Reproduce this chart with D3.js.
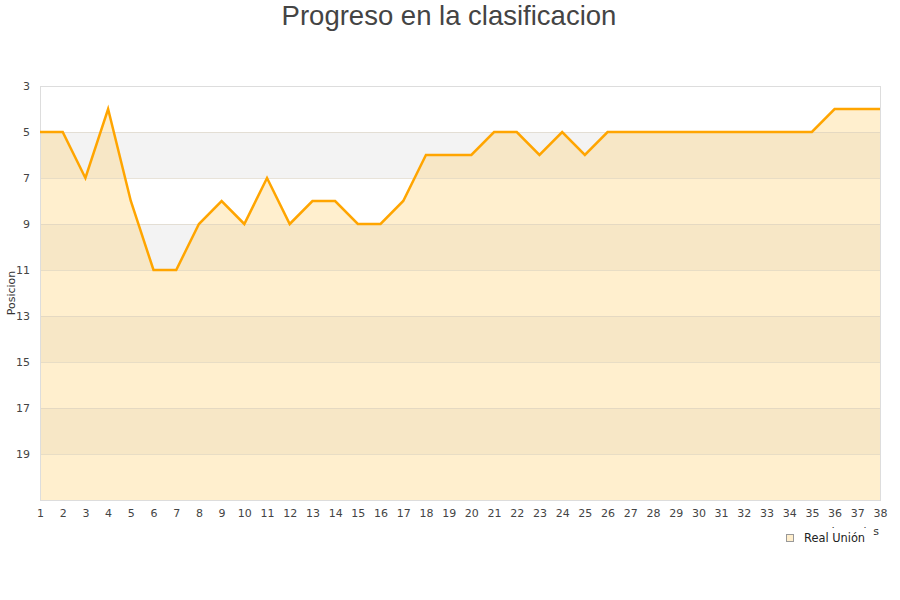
<!DOCTYPE html>
<html><head><meta charset="utf-8">
<script src="https://cdn.jsdelivr.net/npm/d3@7"></script>
<style>body{margin:0;background:#fff}svg{display:block}</style>
</head><body>
<svg id="c" width="900" height="600"></svg>
<script>
const rounds = d3.range(1, 39);
const positions = [5,5,7,4,8,11,11,9,8,9,7,9,8,8,9,9,8,6,6,6,5,5,6,5,6,5,5,5,5,5,5,5,5,5,5,4,4,4];
const yTicks = [3,5,7,9,11,13,15,17,19];
const teamName = "Real Unión";
const titleText = "Progreso en la clasificacion";

const svg = d3.select("#c");
const x = d3.scaleLinear().domain([1,38]).range([40,880]);
const y = d3.scaleLinear().domain([3,21]).range([86,500]);

// background bands
const bands = d3.range(3, 21, 2);
svg.append("g").selectAll("rect").data(bands).join("rect")
  .attr("x", x(1)).attr("width", x(38)-x(1))
  .attr("y", d=>y(d)).attr("height", d=>y(d+2)-y(d))
  .attr("fill", (d,i)=> i%2===1 ? "#f3f3f3" : "#ffffff");

// area
const area = d3.area().x((d,i)=>x(rounds[i])).y0(y(21)).y1(d=>y(d));
svg.append("path").datum(positions).attr("d", area)
  .attr("fill", "#ffcc66").attr("fill-opacity", 0.32);

// grid lines
svg.append("g").selectAll("line").data(yTicks.slice(1)).join("line")
  .attr("x1", x(1)).attr("x2", x(38)).attr("y1", d=>y(d)).attr("y2", d=>y(d))
  .attr("stroke", "#d8d0c0").attr("stroke-opacity", 0.6).attr("stroke-width", 1).attr("shape-rendering","crispEdges");

// border
svg.append("rect").attr("x", x(1)+0.5).attr("y", y(3)+0.5)
  .attr("width", x(38)-x(1)).attr("height", y(21)-y(3))
  .attr("fill","none").attr("stroke","#dddddd").attr("shape-rendering","crispEdges");

// line
const line = d3.line().x((d,i)=>x(rounds[i])).y(d=>y(d));
svg.append("path").datum(positions).attr("d", line)
  .attr("fill","none").attr("stroke","#ffa500").attr("stroke-width",2.5).attr("stroke-linejoin","miter");

// y axis
const yAxis = d3.axisLeft(y).tickValues(yTicks).tickSize(0).tickPadding(10);
const gy = svg.append("g").attr("transform","translate(40,0)").call(yAxis);
gy.select(".domain").remove();
gy.selectAll("text").attr("font-family","DejaVu Sans, Verdana, sans-serif").attr("font-size",11).attr("fill","#444");

// x axis
const xAxis = d3.axisBottom(x).tickValues(rounds).tickSize(0).tickPadding(9).tickFormat(d3.format("d"));
const gx = svg.append("g").attr("transform","translate(0,500)").call(xAxis);
gx.select(".domain").remove();
gx.selectAll("text").attr("font-family","DejaVu Sans, Verdana, sans-serif").attr("font-size",11).attr("fill","#444");

// title
svg.append("text").attr("x",449).attr("y",25).attr("text-anchor","middle")
  .attr("font-family","Liberation Sans, Arial, sans-serif").attr("font-size",27.5).attr("fill","#444").text(titleText);

// y label
svg.append("text").attr("transform","translate(15,293) rotate(-90)").attr("text-anchor","middle")
  .attr("font-family","DejaVu Sans, Verdana, sans-serif").attr("font-size",11).attr("fill","#333").text("Posicion");

// x label (partly covered by legend, as in the reference)
svg.append("text").attr("x",879).attr("y",535).attr("text-anchor","end")
  .attr("font-family","DejaVu Sans, Verdana, sans-serif").attr("font-size",11).attr("fill","#333").text("Jornadas");

// legend
const lg = svg.append("g");
lg.append("rect").attr("x",778).attr("y",528).attr("width",95).attr("height",22).attr("fill","#fff");
lg.append("rect").attr("x",786.5).attr("y",534.5).attr("width",7).attr("height",7)
  .attr("fill","#ffeecc").attr("stroke","#999").attr("stroke-width",1);
lg.append("text").attr("x",804).attr("y",541.5)
  .attr("font-family","DejaVu Sans, Verdana, sans-serif").attr("font-size",11.4).attr("fill","#222").text(teamName);
</script>
</body></html>
